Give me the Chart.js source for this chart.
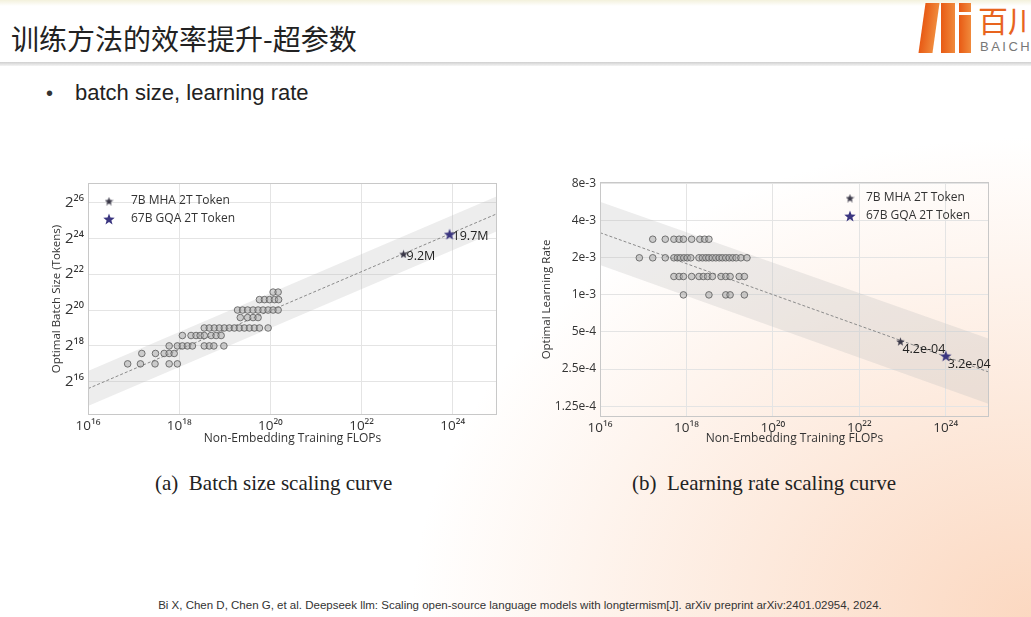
<!DOCTYPE html>
<html>
<head>
<meta charset="utf-8">
<script src="https://cdn.jsdelivr.net/npm/chart.js@4.4.1/dist/chart.umd.min.js"></script>
<style>
  body { margin: 0; width: 1031px; height: 617px; overflow: hidden; position: relative;
         font-family: "Liberation Sans", Arial, sans-serif;
         background: radial-gradient(ellipse 620px 480px at 1031px 617px, rgba(251,212,186,0.9), rgba(255,255,255,0) 100%), #fff; }
  .abs { position: absolute; white-space: nowrap; }
  #topstrip { left: 0; top: 0; width: 1031px; height: 6px; background: linear-gradient(#f3f1dc, #fff); }
  #title { left: 11px; top: 21px; font: 28px/34px "Noto Sans CJK SC", sans-serif; color: #222; }
  #sep { left: 0; top: 62px; width: 1031px; height: 4px; background: linear-gradient(#cfcfcf, #f4f4f4); }
  #bullet { left: 46px; top: 80px; font-size: 20px; line-height: 26px; color: #333; }
  #bullettext { left: 75px; top: 79px; font-size: 22px; line-height: 28px; color: #222; }
  .cap { top: 469px; font: 21px/28px "Liberation Serif", serif; color: #222; }
  #cite { left: 0; width: 1040px; text-align: center; top: 599px; font-size: 11.5px; color: #333; }
  .bar { background: linear-gradient(90deg, #e85a14, #f08a3c); }
  #logotxt { left: 978px; top: 2px; font: 30px/34px "Noto Sans CJK SC", sans-serif; color: #e8641e; }
  #logosub { left: 980px; top: 39px; font: 13px/16px "Liberation Sans", sans-serif; letter-spacing: 2.5px; color: #777; }
  canvas { position: absolute; }
</style>
</head>
<body>
<div class="abs" id="topstrip"></div>
<div class="abs" id="title">训练方法的效率提升-超参数</div>
<div class="abs" id="sep"></div>
<div class="abs bar" style="left:922px;top:3px;width:14px;height:50px;transform:skewX(-8deg);"></div>
<div class="abs bar" style="left:941px;top:3px;width:14px;height:50px;"></div>
<div class="abs bar" style="left:959px;top:3px;width:12px;height:9px;"></div>
<div class="abs bar" style="left:959px;top:15px;width:12px;height:38px;"></div>
<div class="abs" id="logotxt">百川</div>
<div class="abs" id="logosub">BAICH</div>
<div class="abs" id="bullet">•</div>
<div class="abs" id="bullettext">batch size, learning rate</div>

<canvas id="batchChart" width="470" height="280" style="left:40px;top:170px;width:470px;height:280px"></canvas>
<canvas id="lrChart" width="470" height="280" style="left:530px;top:170px;width:470px;height:280px"></canvas>

<div class="abs cap" style="left:155px">(a)&nbsp; Batch size scaling curve</div>
<div class="abs cap" style="left:632px">(b)&nbsp; Learning rate scaling curve</div>
<div class="abs" id="cite">Bi X, Chen D, Chen G, et al. Deepseek llm: Scaling open-source language models with longtermism[J]. arXiv preprint arXiv:2401.02954, 2024.</div>

<script>
var legendNames = ['7B MHA 2T Token', '67B GQA 2T Token'];
var flopTicks = [16, 18, 20, 22, 24];

// (a) batch size: x = log10 FLOPs, y = log2 tokens
var batchTicks = [16, 18, 20, 22, 24, 26];
var batchLevels = [17, 17.58, 18, 18.58, 19, 19.58, 20, 20.58, 21];
var batchFlops = [
  [16.87, 17.15, 17.47, 17.78, 17.96],
  [17.18, 17.48, 17.67, 17.78, 17.89],
  [17.78, 17.96, 18.07, 18.18, 18.29, 18.55, 18.66, 18.76, 18.98],
  [18.07, 18.26, 18.37, 18.46, 18.55, 18.70, 18.81, 18.92],
  [18.55, 18.66, 18.77, 18.88, 18.99, 19.10, 19.21, 19.32, 19.43, 19.54, 19.65, 19.76, 19.95],
  [19.34, 19.50, 19.62, 19.73],
  [19.28, 19.39, 19.50, 19.62, 19.73, 19.84, 19.95, 20.06, 20.17],
  [19.76, 19.87, 19.98, 20.09, 20.18],
  [20.06, 20.17]
];
var batchStarFlops = [22.92, 23.93];
var batchStarValues = [23.13, 24.23];
var batchStarLabels = ['9.2M', '19.7M'];
var fitFlops = [16, 25];
var batchFit = [15.62, 25.4];
var batchBandHigh = [16.6, 26.38];
var batchBandLow = [14.65, 24.42];

// (b) learning rate: x = log10 FLOPs, y = learning rate
var lrTicks = [1.25e-4, 2.5e-4, 5e-4, 1e-3, 2e-3, 4e-3, 8e-3];
var lrTickLabels = ['1.25e-4', '2.5e-4', '5e-4', '1e-3', '2e-3', '4e-3', '8e-3'];
var lrLevels = [2.83e-3, 2e-3, 1.41e-3, 1e-3];
var lrFlops = [
  [17.22, 17.51, 17.71, 17.83, 17.93, 18.12, 18.31, 18.42, 18.52],
  [16.91, 17.22, 17.51, 17.71, 17.79, 17.86, 17.94, 18.02, 18.10, 18.29, 18.37, 18.45, 18.52,
   18.60, 18.68, 18.76, 18.83, 18.91, 18.99, 19.07, 19.15, 19.26, 19.40],
  [17.71, 17.83, 17.93, 18.12, 18.29, 18.39, 18.49, 18.60, 18.80, 18.91, 19.01, 19.22, 19.34],
  [17.93, 18.52, 18.91, 19.01, 19.34]
];
var lrStarFlops = [22.95, 24.0];
var lrStarValues = [4.2e-4, 3.2e-4];
var lrStarLabels = ['4.2e-04', '3.2e-04'];
var lrFit = [3.2e-3, 2.36e-4];
var lrBandHigh = [5.7e-3, 4.4e-4];
var lrBandLow = [1.75e-3, 1.3e-4];

var FONT = '"Open Sans", "DejaVu Sans", sans-serif';
var sup = {'0':'⁰','1':'¹','2':'²','3':'³','4':'⁴','5':'⁵','6':'⁶','7':'⁷','8':'⁸','9':'⁹'};
function supNum(n) { return String(n).split('').map(function(d){ return sup[d]; }).join(''); }

function makeStar(size, color) {
  var c = document.createElement('canvas');
  c.width = size; c.height = size;
  var g = c.getContext('2d');
  g.fillStyle = color;
  g.beginPath();
  for (var i = 0; i < 10; i++) {
    var r = i % 2 ? size * 0.21 : size * 0.5;
    var a = -Math.PI / 2 + i * Math.PI / 5;
    g.lineTo(size / 2 + r * Math.cos(a), size / 2 + 0.6 + r * Math.sin(a));
  }
  g.closePath();
  g.fill();
  return c;
}
var star7 = makeStar(9, '#3a3848');
var star67 = makeStar(12, '#3b3680');

function pairs(xs, ys) {
  return xs.map(function(x, i){ return {x: x, y: ys[i]}; });
}
function rowsToPoints(levels, rows) {
  var pts = [];
  rows.forEach(function(row, i) {
    row.forEach(function(x){ pts.push({x: x, y: levels[i]}); });
  });
  return pts;
}

var extras = {
  id: 'extras',
  afterDraw: function(chart, args, opts) {
    var ctx = chart.ctx, a = chart.chartArea;
    ctx.save();
    ctx.strokeStyle = '#c8c8c8';
    ctx.lineWidth = 1;
    ctx.strokeRect(a.left + 0.5, a.top + 0.5, a.right - a.left - 1, a.bottom - a.top - 1);
    // star labels
    ctx.fillStyle = '#222';
    ctx.font = '12.5px ' + FONT;
    ctx.textBaseline = 'middle';
    [0, 1].forEach(function(k) {
      var pt = chart.getDatasetMeta(k).data[0];
      ctx.fillText(opts.labels[k], pt.x + opts.dx[k], pt.y + opts.dy[k]);
    });
    // legend inside the plot
    var lx = opts.legendRight ? a.right - opts.legendX : a.left + opts.legendX;
    [star7, star67].forEach(function(img, k) {
      var y = a.top + opts.legendY + k * 18;
      ctx.drawImage(img, lx - img.width / 2, y - img.height / 2);
      ctx.fillStyle = '#333';
      ctx.font = '12px ' + FONT;
      ctx.fillText(legendNames[k], lx + opts.textGap, y);
    });
    ctx.restore();
  }
};

function buildChart(id, cfg) {
  var datasets = [
    {data: [cfg.stars[0]], pointStyle: star7, order: 0},
    {data: [cfg.stars[1]], pointStyle: star67, order: 0},
    {data: cfg.points, pointStyle: 'circle', pointRadius: 3.3,
     pointBackgroundColor: 'rgba(170,170,170,0.5)', pointBorderColor: 'rgba(95,95,95,0.85)',
     pointBorderWidth: 1, order: 1},
    {data: cfg.fit, showLine: true, borderColor: '#8a8a8a', borderWidth: 1, borderDash: [3, 2],
     pointRadius: 0, order: 2},
    {data: cfg.bandHigh, showLine: true, borderWidth: 0, borderColor: 'rgba(0,0,0,0)', pointRadius: 0,
     fill: '+1', backgroundColor: 'rgba(190,190,190,0.28)', order: 3},
    {data: cfg.bandLow, showLine: true, borderWidth: 0, borderColor: 'rgba(0,0,0,0)', pointRadius: 0, order: 3}
  ];
  datasets.forEach(function(d){ if (d.showLine === undefined) d.showLine = false; });

  return new Chart(document.getElementById(id), {
    type: 'line',
    data: {datasets: datasets},
    plugins: [extras],
    options: {
      responsive: false,
      animation: false,
      layout: {padding: cfg.padding},
      plugins: {legend: {display: false}, tooltip: {enabled: false}, extras: cfg.extras},
      scales: {
        x: {
          type: 'linear', min: 16, max: cfg.xMax, bounds: 'data',
          afterBuildTicks: function(s){ s.ticks = flopTicks.map(function(v){ return {value: v}; }); },
          afterFit: function(s){ s.height = cfg.xHeight; },
          grid: {color: '#e4e4e4', drawTicks: false},
          border: {display: false},
          ticks: {padding: 3, color: '#333', font: {family: FONT, size: 13.5},
                  callback: function(v){ return '10' + supNum(v); }},
          title: {display: true, text: 'Non-Embedding Training FLOPs', color: '#333',
                  font: {family: FONT, size: 12}, padding: {top: 0, bottom: 4}}
        },
        y: {
          type: cfg.yType, min: cfg.yMin, max: cfg.yMax, bounds: 'data',
          afterBuildTicks: function(s){ s.ticks = cfg.yTicks.map(function(v){ return {value: v}; }); },
          afterFit: function(s){ s.width = cfg.yWidth; },
          grid: {color: '#e4e4e4', drawTicks: false},
          border: {display: false},
          ticks: {padding: 4, color: '#333', font: {family: FONT, size: cfg.yTickSize},
                  callback: cfg.yLabel},
          title: {display: true, text: cfg.yTitle, color: '#333',
                  font: {family: FONT, size: 11.5}, padding: {top: cfg.yTitlePad, bottom: 0}}
        }
      }
    }
  });
}

buildChart('batchChart', {
  stars: [{x: batchStarFlops[0], y: batchStarValues[0]}, {x: batchStarFlops[1], y: batchStarValues[1]}],
  points: rowsToPoints(batchLevels, batchFlops),
  fit: pairs(fitFlops, batchFit),
  bandHigh: pairs(fitFlops, batchBandHigh),
  bandLow: pairs(fitFlops, batchBandLow),
  padding: {top: 5, right: 13, left: 0, bottom: 0},
  xMax: 24.97, xHeight: 35,
  yType: 'linear', yMin: 14.15, yMax: 27.08, yTicks: batchTicks, yWidth: 48, yTickSize: 15,
  yLabel: function(v){ return '2' + supNum(v); },
  yTitle: 'Optimal Batch Size (Tokens)', yTitlePad: 10,
  extras: {labels: batchStarLabels, dx: [3, 3], dy: [3, 2],
           legendRight: false, legendX: 21, legendY: 18, textGap: 22}
});

buildChart('lrChart', {
  stars: [{x: lrStarFlops[0], y: lrStarValues[0]}, {x: lrStarFlops[1], y: lrStarValues[1]}],
  points: rowsToPoints(lrLevels, lrFlops),
  fit: pairs(fitFlops, lrFit),
  bandHigh: pairs(fitFlops, lrBandHigh),
  bandLow: pairs(fitFlops, lrBandLow),
  padding: {top: 12, right: 11, left: 0, bottom: 0},
  xMax: 25, xHeight: 33,
  yType: 'logarithmic', yMin: 1.02e-4, yMax: 8.25e-3, yTicks: lrTicks, yWidth: 70, yTickSize: 12,
  yLabel: function(v){ return lrTickLabels[lrTicks.indexOf(v)]; },
  yTitle: 'Optimal Learning Rate', yTitlePad: 10,
  extras: {labels: lrStarLabels, dx: [2, 2], dy: [8, 9],
           legendRight: true, legendX: 139, legendY: 16, textGap: 16}
});
</script>
</body>
</html>
